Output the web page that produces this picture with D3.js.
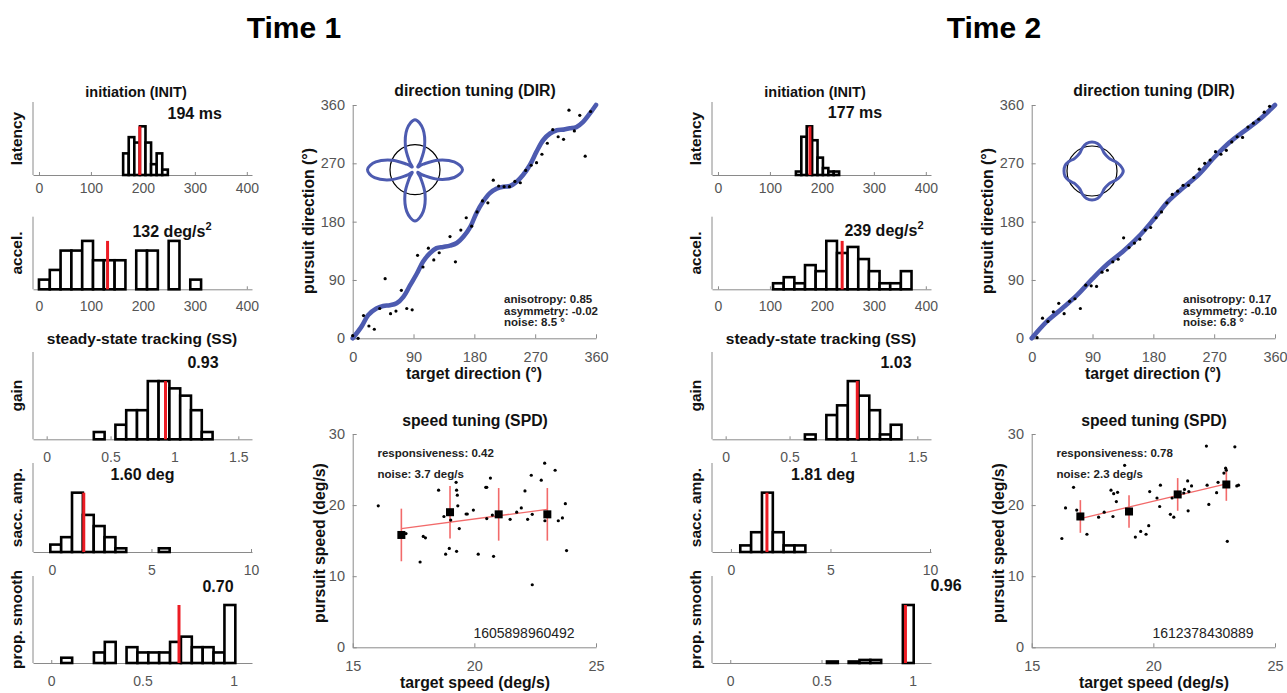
<!DOCTYPE html>
<html><head><meta charset="utf-8">
<script src="https://cdn.jsdelivr.net/npm/d3@7"></script>
<style>
body{margin:0;background:#fff}
text{font-family:Arial,"Liberation Sans",sans-serif}
</style>
</head><body>
<svg id="c" width="1287" height="693"></svg>
<script>
// ---------------- DATA ----------------
const timeTitles = ["Time 1", "Time 2"];
const histNames = ["latency", "accel.", "gain", "sacc. amp.", "prop. smooth"];
const histTitles = ["initiation (INIT)", "steady-state tracking (SS)"];
const histTicks = [[0,100,200,300,400],[0,100,200,300,400],[0,0.5,1,1.5],[0,5,10],[0,0.5,1]];
const histDomains = [[-11.5,410],[-11.5,410],[-0.107,1.607],[-0.95,10.05],[-0.1,1.1]];

// Time 1 histograms
const t1BinStart = [162, 0, 0.369, -0.08, 0.055];
const t1BinWidth = [10.75, 20.8, 0.0845, 0.545, 0.0596];
const t1Latency = [4,7,6,9,6,2,4,1];
const t1Accel = [1,2,4,4,5,3,3,3,0,4,4,0,5,0,1];
const t1Gain = [1,0,2,4,4,8,8,7,6,4,1];
const t1Sacc = [2,4,16,10,7,4,1,0,0,0,1];
const t1Smooth = [1,0,0,2,4,0,3,2,2,2,4,5,3,3,2,11];
const t1Medians = [194, 132, 0.93, 1.60, 0.70];
const t1ValueLabels = ["194 ms", "132 deg/s^2", "0.93", "1.60 deg", "0.70"];

// Time 2 histograms
const t2BinStart = [150, 106, 0.62, 0.47, 0.53];
const t2BinWidth = [10.4, 20.5, 0.084, 0.545, 0.0594];
const t2Latency = [1,11,14,10,5,2,1,1];
const t2Accel = [1,2,1,4,3,8,6,7,5,3,1,1,3];
const t2Gain = [1,0,5,7,12,9,6,1,3];
const t2Sacc = [2,6,18,6,2,2];
const t2Smooth = [1,0,1,2,2,0,0,38];
const t2Medians = [177, 239, 1.03, 1.81, 0.96];
const t2ValueLabels = ["177 ms", "239 deg/s^2", "1.03", "1.81 deg", "0.96"];

// Direction tuning
const dirTitle = "direction tuning (DIR)";
const dirXLabel = "target direction (\u00B0)";
const dirYLabel = "pursuit direction (\u00B0)";
const dirTicks = [0, 90, 180, 270, 360];

const t1DirTarget = [0,8,16,24,32,40,48,56,64,72,80,88,96,104,112,120,128,144,152,160,168,176,184,192,200,208,216,224,232,240,248,256,264,272,280,288,296,304,312,320,328,336,344,352];
const t1DirPursuit = [4,0,35,19,14,46,92,38,42,74,46,44,128,110,139,121,132,157,118,167,186,173,195,212,209,244,235,234,234,242,240,259,267,271,284,301,322,311,307,352,320,344,281,350];
const t1FitTarget = [0,13,23,35,45,55,65,75,85,95,104,114,124,134,144,154,164,174,183,193,203,213,223,233,243,252,262,272,282,292,302,312,321,331,341,351,360];
const t1FitPursuit = [0,18,36,46,50,51,54,64,82,100,118,131,139,141,143,147,157,172,193,211,224,231,234,235,242,252,267,288,306,316,321,322,324,326,334,347,360];
const t1DirStats = ["anisotropy: 0.85", "asymmetry: -0.02", "noise: 8.5 \u00B0"];

const t2DirTarget = [8,16,24,32,40,48,56,64,72,80,88,96,104,112,120,128,136,144,152,160,168,176,184,192,200,208,216,224,232,240,248,256,264,272,280,288,296,304,312,320,328,336,344,352];
const t2DirPursuit = [1,31,26,41,54,38,57,61,46,82,81,80,102,105,118,122,155,140,147,153,167,171,186,195,209,222,227,236,236,248,261,270,275,288,284,290,303,311,310,326,332,338,349,358];
const t2FitTarget = [0,22.5,45,67.5,90,112.5,135,157.5,180,202.5,225,247.5,270,292.5,315,337.5,360];
const t2FitPursuit = [0,26,46,67,92,115,134,156,183,212,233,253,279,302,320,338,360];
const t2DirStats = ["anisotropy: 0.17", "asymmetry: -0.10", "noise: 6.8 \u00B0"];

// polar inset (relative gain by direction)
const insetAngles = [0,11.25,22.5,33.75,45,56.25,67.5,78.75,90,101.25,112.5,123.75,135,146.25,157.5,168.75,180,191.25,202.5,213.75,225,236.25,247.5,258.75,270,281.25,292.5,303.75,315,326.25,337.5,348.75];
const t1InsetR = [1.9,1.6,1.0,0.4,0.15,0.4,1.0,1.65,2.0,1.65,1.0,0.4,0.15,0.4,1.0,1.6,1.9,1.65,1.05,0.42,0.15,0.42,1.05,1.7,2.05,1.7,1.05,0.42,0.15,0.4,1.0,1.6];
const t2InsetR = [1.25,1.15,1.0,0.87,0.84,0.87,1.0,1.12,1.16,1.12,1.0,0.87,0.84,0.87,1.0,1.1,1.12,1.1,1.0,0.87,0.84,0.87,1.0,1.12,1.16,1.12,1.0,0.87,0.84,0.87,1.0,1.15];

// Speed tuning
const spdTitle = "speed tuning (SPD)";
const spdXLabel = "target speed (deg/s)";
const spdYLabel = "pursuit speed (deg/s)";
const spdXTicks = [15, 20, 25];
const spdYTicks = [0, 10, 20, 30];
const meanSpeeds = [17, 19, 21, 23];

const t1SpdTarget = [16.05,17.19,17.77,17.9,17.99,18.53,18.75,18.82,18.97,19.03,19.25,19.27,19.3,19.32,19.27,19.38,19.66,19.71,19.96,20.16,20.47,20.51,20.66,20.51,20.74,20.79,21.47,21.74,21.93,22.08,22.19,22.34,22.38,22.38,22.75,22.89,22.9,23.32,23.45,23.62,23.74,23.79];
const t1SpdPursuit = [19.9,16.0,12.0,15.6,15.4,22.1,18.4,13.1,13.9,17.9,23.2,22.1,21.4,19.9,13.5,16.7,18.75,18.75,19.3,13.1,22.5,22.5,23.8,18.1,18.6,12.8,18.0,19.0,19.6,22.0,18.0,24.2,18.7,8.8,23.5,25.9,17.8,24.9,17.8,18.2,20.2,13.6];
const t1MeanPursuit = [15.8, 19.0, 18.7, 18.7];
const t1MeanErr = [3.7, 3.7, 3.7, 3.7];
const t1FitSpeed = [17, 23];
const t1FitSpeedPursuit = [16.7, 19.4];
const t1SpdStats = ["responsiveness: 0.42", "noise: 3.7 deg/s"];
const t1Id = "1605898960492";

const t2SpdTarget = [16.24,16.39,16.72,16.85,17.27,17.75,17.98,18.26,18.34,18.37,18.48,18.53,18.82,19.26,19.48,19.7,19.81,19.85,20.15,20.26,20.29,20.7,20.77,20.84,21.25,21.28,21.41,21.43,21.46,21.57,22.18,22.21,22.28,22.6,22.66,22.9,22.97,23.0,23.04,23.35,23.43,23.5];
const t2SpdPursuit = [15.3,19.6,22.5,19.3,15.9,18.3,19.0,22.1,18.4,21.6,20.5,21.8,25.6,15.5,16.3,15.9,17.1,21.9,21.0,19.8,22.8,18.7,21.0,18.3,21.7,22.2,23.4,19.2,21.9,22.7,28.3,22.8,20.1,21.75,23.2,24.5,25.2,24.9,14.9,28.2,22.7,22.8];
const t2MeanPursuit = [18.4, 19.1, 21.5, 22.9];
const t2MeanErr = [2.3, 2.3, 2.3, 2.3];
const t2FitSpeed = [17, 23];
const t2FitSpeedPursuit = [18.1, 23.0];
const t2SpdStats = ["responsiveness: 0.78", "noise: 2.3 deg/s"];
const t2Id = "1612378430889";

// ---------------- LAYOUT ----------------
const svg = d3.select("#c");
const AXC = "#8a8a8a", TKC = "#555555", BLUE = "#4d5bb0", RED = "#ec1c24", LRED = "#f26a6a";
const histRows = [[102,175],[216.7,289.3],[352,439.3],[463,552],[576,663]];
const histLabelOff = [18,21,22,23,23];
const histX = [33, 252];
const histTitlePos = [[136,97],[142,344]];
const t1LabelPos = [[194.7,119],[172,236.7],[203,368],[142.5,480],[218,591.5]];
const t2LabelPos = [[176,118.3],[205,236],[217,368],[144,480],[267,591]];

timeTitles.forEach((t, i) => {
  svg.append("text").attr("x", i === 0 ? 294 : 994).attr("y", 38)
    .attr("text-anchor", "middle").attr("font-size", 30).attr("font-weight", "bold")
    .attr("fill", "#000").text(t);
});

function styleAxis(sel, fs) {
  sel.select(".domain").attr("stroke", AXC).attr("stroke-width", 1);
  sel.selectAll(".tick line").attr("stroke", AXC);
  sel.selectAll(".tick text").attr("fill", TKC).attr("font-size", fs)
    .attr("font-family", 'Arial,"Liberation Sans",sans-serif');
}

function valueLabel(g, str, pos) {
  const parts = str.split("^");
  const t = g.append("text").attr("x", pos[0]).attr("y", pos[1]).attr("text-anchor", "middle")
    .attr("font-size", 16).attr("font-weight", "bold").attr("fill", "#111");
  t.append("tspan").text(parts[0]);
  if (parts.length > 1) t.append("tspan").attr("dy", -7).attr("font-size", 11).text(parts[1]);
}

function drawHist(g, i, start, width, counts, median, label, lpos) {
  const [top, base] = histRows[i];
  const x = d3.scaleLinear().domain(histDomains[i]).range(histX);
  const maxC = d3.max(counts);
  const y = d3.scaleLinear().domain([0, maxC * 1.5]).range([base, top]);
  const ax = g.append("g").attr("transform", `translate(0,${base})`)
    .call(d3.axisBottom(x).tickValues(histTicks[i]).tickFormat(d3.format("~g"))
      .tickSizeInner(-3).tickSizeOuter(0).tickPadding(histLabelOff[i] - 9.6));
  styleAxis(ax, 14);
  g.append("line").attr("x1", histX[0]).attr("x2", histX[0]).attr("y1", y(0)).attr("y2", y(maxC * 1.5))
    .attr("stroke", AXC);
  const bins = counts.map((c, k) => ({x0: start + k * width, x1: start + (k + 1) * width, c}))
    .filter(b => b.c > 0);
  g.append("g").selectAll("rect").data(bins).join("rect")
    .attr("x", b => x(b.x0)).attr("width", b => x(b.x1) - x(b.x0))
    .attr("y", b => y(b.c)).attr("height", b => y(0) - y(b.c))
    .attr("fill", "#fff").attr("stroke", "#000").attr("stroke-width", 2.6);
  g.append("line").attr("x1", x(median)).attr("x2", x(median)).attr("y1", y(0)).attr("y2", y(maxC))
    .attr("stroke", RED).attr("stroke-width", 3);
  g.append("text").attr("transform", `translate(22,${(top + base) / 2}) rotate(-90)`)
    .attr("text-anchor", "middle").attr("font-size", 15.5).attr("font-weight", "bold")
    .attr("fill", "#111").text(histNames[i]);
  valueLabel(g, label, lpos);
}

function drawDir(g, tgt, pur, fitT, fitP, insetR, insetC, stats) {
  const x = d3.scaleLinear().domain([0, 360]).range([352.7, 596]);
  const y = d3.scaleLinear().domain([0, 360]).range([338.3, 105]);
  const ax = g.append("g").attr("transform", "translate(0,338.3)")
    .call(d3.axisBottom(x).tickValues(dirTicks).tickSizeInner(-4).tickSizeOuter(0).tickPadding(13.2));
  styleAxis(ax, 14.5);
  const ay = g.append("g").attr("transform", "translate(352.7,0)")
    .call(d3.axisLeft(y).tickValues(dirTicks).tickSizeInner(-4).tickSizeOuter(0).tickPadding(7.7));
  styleAxis(ay, 14.5);
  g.append("text").attr("x", 475).attr("y", 96).attr("text-anchor", "middle")
    .attr("font-size", 15.8).attr("font-weight", "bold").attr("fill", "#111").text(dirTitle);
  g.append("text").attr("x", 474).attr("y", 379).attr("text-anchor", "middle")
    .attr("font-size", 15.8).attr("font-weight", "bold").attr("fill", "#111").text(dirXLabel);
  g.append("text").attr("transform", "translate(314,221) rotate(-90)").attr("text-anchor", "middle")
    .attr("font-size", 15.8).attr("font-weight", "bold").attr("fill", "#111").text(dirYLabel);
  // inset
  const rs = d3.scaleLinear().domain([0, 1]).range([0, 25]);
  const ig = g.append("g").attr("transform", `translate(${insetC[0]},${insetC[1]})`);
  ig.append("circle").attr("r", rs(1)).attr("fill", "none").attr("stroke", "#000").attr("stroke-width", 1.2);
  const pts = insetAngles.map((a, k) => ({a, r: insetR[k]}));
  ig.append("path").datum(pts)
    .attr("d", d3.lineRadial().angle(d => (90 - d.a) * Math.PI / 180).radius(d => rs(d.r)).curve(d3.curveCardinalClosed))
    .attr("fill", "none").attr("stroke", BLUE).attr("stroke-width", 3);
  // fit curve
  const fit = fitT.map((t, k) => [t, fitP[k]]);
  g.append("path").datum(fit)
    .attr("d", d3.line().x(d => x(d[0])).y(d => y(d[1])).curve(d3.curveCatmullRom))
    .attr("fill", "none").attr("stroke", BLUE).attr("stroke-width", 4.6).attr("stroke-linecap", "round");
  g.append("g").selectAll("circle").data(tgt.map((t, k) => [t, pur[k]])).join("circle")
    .attr("cx", d => x(d[0])).attr("cy", d => y(d[1])).attr("r", 1.6).attr("fill", "#000");
  stats.forEach((s, k) => {
    g.append("text").attr("x", 504).attr("y", 303 + k * 11.5).attr("font-size", 11.5)
      .attr("font-weight", "bold").attr("fill", "#222").text(s);
  });
}

function drawSpd(g, tgt, pur, means, errs, fitS, fitP, stats, id) {
  const x = d3.scaleLinear().domain([15, 25]).range([352.7, 596]);
  const y = d3.scaleLinear().domain([0, 30]).range([647.3, 434]);
  const ax = g.append("g").attr("transform", "translate(0,647.3)")
    .call(d3.axisBottom(x).tickValues(spdXTicks).tickSizeInner(-4).tickSizeOuter(0).tickPadding(13.2));
  styleAxis(ax, 14.5);
  const ay = g.append("g").attr("transform", "translate(352.7,0)")
    .call(d3.axisLeft(y).tickValues(spdYTicks).tickSizeInner(-4).tickSizeOuter(0).tickPadding(7.7));
  styleAxis(ay, 14.5);
  g.append("text").attr("x", 475).attr("y", 426).attr("text-anchor", "middle")
    .attr("font-size", 15.8).attr("font-weight", "bold").attr("fill", "#111").text(spdTitle);
  g.append("text").attr("x", 475).attr("y", 688).attr("text-anchor", "middle")
    .attr("font-size", 15.8).attr("font-weight", "bold").attr("fill", "#111").text(spdXLabel);
  g.append("text").attr("transform", "translate(325,543) rotate(-90)").attr("text-anchor", "middle")
    .attr("font-size", 15.8).attr("font-weight", "bold").attr("fill", "#111").text(spdYLabel);
  // error bars
  g.append("g").selectAll("line").data(meanSpeeds.map((s, k) => [s, means[k], errs[k]])).join("line")
    .attr("x1", d => x(d[0])).attr("x2", d => x(d[0]))
    .attr("y1", d => y(d[1] - d[2])).attr("y2", d => y(d[1] + d[2]))
    .attr("stroke", LRED).attr("stroke-width", 1.6);
  g.append("line").attr("x1", x(fitS[0])).attr("y1", y(fitP[0])).attr("x2", x(fitS[1])).attr("y2", y(fitP[1]))
    .attr("stroke", LRED).attr("stroke-width", 1.3);
  g.append("g").selectAll("circle").data(tgt.map((t, k) => [t, pur[k]])).join("circle")
    .attr("cx", d => x(d[0])).attr("cy", d => y(d[1])).attr("r", 1.6).attr("fill", "#000");
  g.append("g").selectAll("rect").data(meanSpeeds.map((s, k) => [s, means[k]])).join("rect")
    .attr("x", d => x(d[0]) - 4).attr("y", d => y(d[1]) - 4).attr("width", 8).attr("height", 8)
    .attr("fill", "#000");
  stats.forEach((s, k) => {
    g.append("text").attr("x", 377.5).attr("y", 457 + k * 21).attr("font-size", 11.5)
      .attr("font-weight", "bold").attr("fill", "#222").text(s);
  });
  g.append("text").attr("x", 524).attr("y", 638).attr("text-anchor", "middle")
    .attr("font-size", 14).attr("fill", "#222").text(id);
}

function drawTime(dx, H, dir, spd) {
  const g = svg.append("g").attr("transform", `translate(${dx},0)`);
  histTitles.forEach((t, k) => {
    g.append("text").attr("x", histTitlePos[k][0]).attr("y", histTitlePos[k][1]).attr("text-anchor", "middle")
      .attr("font-size", k === 0 ? 14.5 : 15.5).attr("font-weight", "bold").attr("fill", "#111").text(t);
  });
  H.counts.forEach((c, i) => drawHist(g, i, H.start[i], H.width[i], c, H.medians[i], H.labels[i], H.pos[i]));
  drawDir(g, ...dir);
  drawSpd(g, ...spd);
}

drawTime(0,
  {start: t1BinStart, width: t1BinWidth, counts: [t1Latency, t1Accel, t1Gain, t1Sacc, t1Smooth],
   medians: t1Medians, labels: t1ValueLabels, pos: t1LabelPos},
  [t1DirTarget, t1DirPursuit, t1FitTarget, t1FitPursuit, t1InsetR, [415, 169.7], t1DirStats],
  [t1SpdTarget, t1SpdPursuit, t1MeanPursuit, t1MeanErr, t1FitSpeed, t1FitSpeedPursuit, t1SpdStats, t1Id]);

drawTime(679,
  {start: t2BinStart, width: t2BinWidth, counts: [t2Latency, t2Accel, t2Gain, t2Sacc, t2Smooth],
   medians: t2Medians, labels: t2ValueLabels, pos: t2LabelPos},
  [t2DirTarget, t2DirPursuit, t2FitTarget, t2FitPursuit, t2InsetR, [413, 171], t2DirStats],
  [t2SpdTarget, t2SpdPursuit, t2MeanPursuit, t2MeanErr, t2FitSpeed, t2FitSpeedPursuit, t2SpdStats, t2Id]);
</script>
</body></html>
